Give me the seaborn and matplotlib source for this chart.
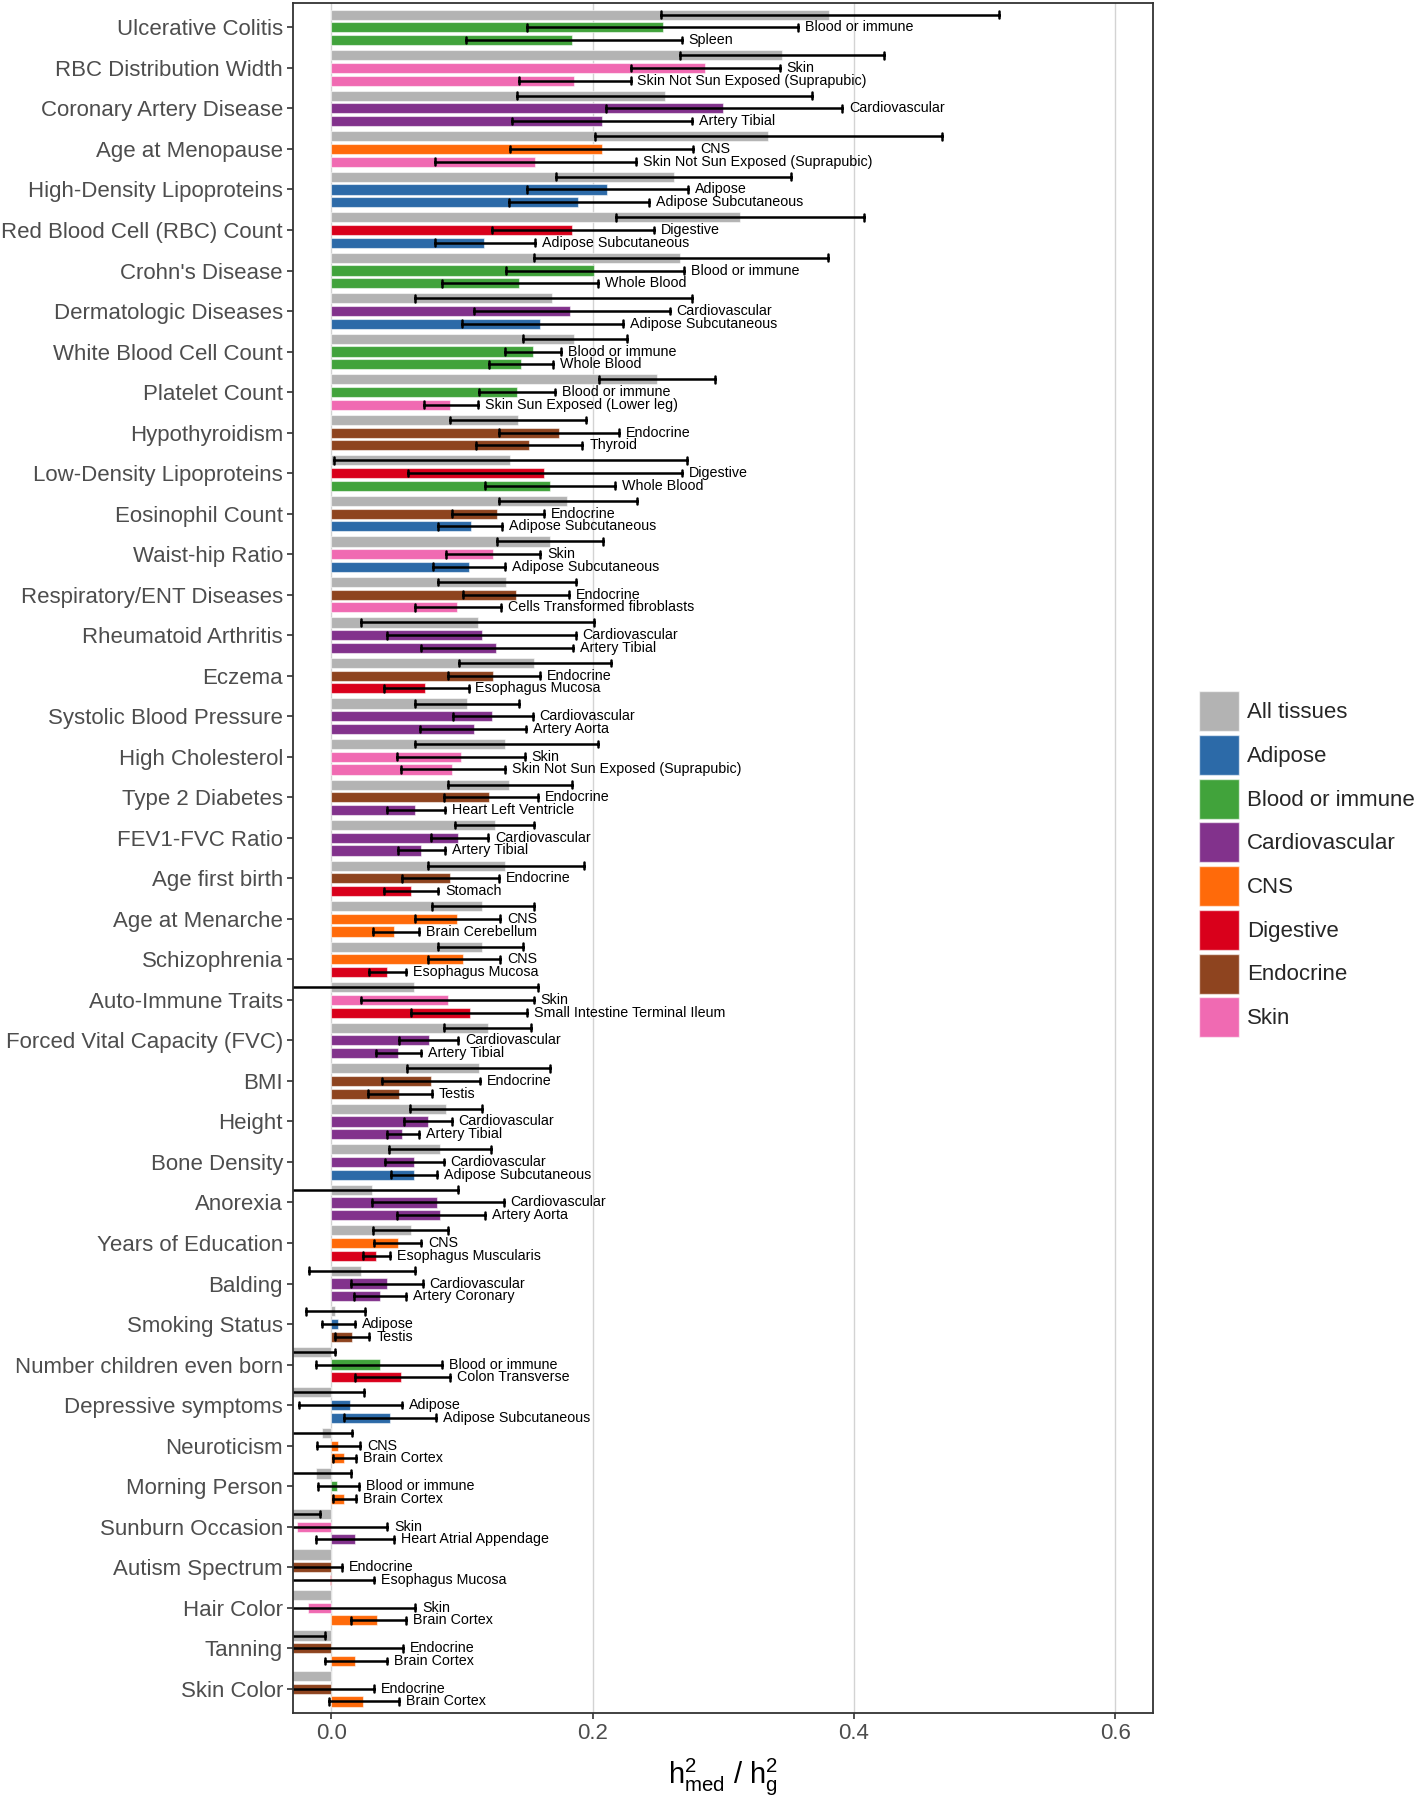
import numpy as np
import pandas as pd
import matplotlib
matplotlib.use("Agg")
import matplotlib.pyplot as plt
import seaborn as sns
from matplotlib.patches import Patch

traits = ["Ulcerative Colitis", "RBC Distribution Width", "Coronary Artery Disease", "Age at Menopause",
          "High-Density Lipoproteins", "Red Blood Cell (RBC) Count", "Crohn's Disease", "Dermatologic Diseases",
          "White Blood Cell Count", "Platelet Count", "Hypothyroidism", "Low-Density Lipoproteins",
          "Eosinophil Count", "Waist-hip Ratio", "Respiratory/ENT Diseases", "Rheumatoid Arthritis", "Eczema",
          "Systolic Blood Pressure", "High Cholesterol", "Type 2 Diabetes", "FEV1-FVC Ratio", "Age first birth",
          "Age at Menarche", "Schizophrenia", "Auto-Immune Traits", "Forced Vital Capacity (FVC)", "BMI", "Height",
          "Bone Density", "Anorexia", "Years of Education", "Balding", "Smoking Status",
          "Number children even born", "Depressive symptoms", "Neuroticism", "Morning Person",
          "Sunburn Occasion", "Autism Spectrum", "Hair Color", "Tanning", "Skin Color"]

all_val = [0.381, 0.345, 0.255, 0.334, 0.262, 0.313, 0.267, 0.169, 0.186, 0.249, 0.143, 0.137, 0.180, 0.167,
           0.134, 0.112, 0.155, 0.104, 0.133, 0.136, 0.125, 0.133, 0.115, 0.115, 0.063, 0.120, 0.113, 0.088,
           0.083, 0.031, 0.061, 0.023, 0.003, -0.035, -0.035, -0.007, -0.012, -0.040, -0.060, -0.060, -0.045, -0.060]
all_lo = [0.252, 0.267, 0.142, 0.202, 0.172, 0.218, 0.155, 0.064, 0.147, 0.205, 0.091, 0.002, 0.128, 0.127,
          0.082, 0.023, 0.098, 0.064, 0.064, 0.089, 0.095, 0.074, 0.077, 0.082, -0.060, 0.086, 0.058, 0.060,
          0.044, -0.050, 0.032, -0.017, -0.019, -0.075, -0.090, -0.032, -0.040, -0.075, -0.100, -0.100, -0.090, -0.100]
all_hi = [0.511, 0.423, 0.368, 0.467, 0.352, 0.408, 0.380, 0.276, 0.226, 0.294, 0.195, 0.272, 0.234, 0.208,
          0.187, 0.201, 0.214, 0.144, 0.204, 0.184, 0.155, 0.193, 0.155, 0.147, 0.158, 0.153, 0.167, 0.115,
          0.122, 0.097, 0.089, 0.064, 0.026, 0.003, 0.025, 0.016, 0.015, -0.009, -0.035, -0.035, -0.005, -0.035]

cat_name = ["Blood or immune", "Skin", "Cardiovascular", "CNS", "Adipose", "Digestive", "Blood or immune",
            "Cardiovascular", "Blood or immune", "Blood or immune", "Endocrine", "Digestive", "Endocrine", "Skin",
            "Endocrine", "Cardiovascular", "Endocrine", "Cardiovascular", "Skin", "Endocrine", "Cardiovascular",
            "Endocrine", "CNS", "CNS", "Skin", "Cardiovascular", "Endocrine", "Cardiovascular", "Cardiovascular",
            "Cardiovascular", "CNS", "Cardiovascular", "Adipose", "Blood or immune", "Adipose", "CNS",
            "Blood or immune", "Skin", "Endocrine", "Skin", "Endocrine", "Endocrine"]
cat_val = [0.254, 0.286, 0.300, 0.207, 0.211, 0.184, 0.201, 0.183, 0.154, 0.142, 0.174, 0.163, 0.127, 0.124,
           0.141, 0.115, 0.124, 0.123, 0.099, 0.121, 0.097, 0.091, 0.096, 0.101, 0.089, 0.075, 0.076, 0.074,
           0.063, 0.081, 0.051, 0.043, 0.005, 0.037, 0.014, 0.005, 0.004, -0.026, -0.045, -0.018, -0.045, -0.050]
cat_lo = [0.150, 0.229, 0.210, 0.137, 0.150, 0.123, 0.134, 0.109, 0.133, 0.113, 0.128, 0.059, 0.092, 0.088,
          0.101, 0.043, 0.089, 0.093, 0.050, 0.086, 0.076, 0.054, 0.064, 0.074, 0.023, 0.052, 0.039, 0.056,
          0.041, 0.031, 0.033, 0.015, -0.007, -0.012, -0.025, -0.011, -0.010, -0.100, -0.100, -0.100, -0.140, -0.130]
cat_hi = [0.357, 0.343, 0.391, 0.277, 0.273, 0.247, 0.270, 0.259, 0.176, 0.171, 0.220, 0.268, 0.163, 0.160,
          0.182, 0.187, 0.160, 0.154, 0.148, 0.158, 0.120, 0.128, 0.129, 0.129, 0.155, 0.097, 0.114, 0.092,
          0.086, 0.132, 0.069, 0.070, 0.018, 0.085, 0.054, 0.022, 0.021, 0.043, 0.008, 0.064, 0.055, 0.033]

tis_name = ["Spleen", "Skin Not Sun Exposed (Suprapubic)", "Artery Tibial", "Skin Not Sun Exposed (Suprapubic)",
            "Adipose Subcutaneous", "Adipose Subcutaneous", "Whole Blood", "Adipose Subcutaneous", "Whole Blood",
            "Skin Sun Exposed (Lower leg)", "Thyroid", "Whole Blood", "Adipose Subcutaneous",
            "Adipose Subcutaneous", "Cells Transformed fibroblasts", "Artery Tibial", "Esophagus Mucosa",
            "Artery Aorta", "Skin Not Sun Exposed (Suprapubic)", "Heart Left Ventricle", "Artery Tibial",
            "Stomach", "Brain Cerebellum", "Esophagus Mucosa", "Small Intestine Terminal Ileum", "Artery Tibial",
            "Testis", "Artery Tibial", "Adipose Subcutaneous", "Artery Aorta", "Esophagus Muscularis",
            "Artery Coronary", "Testis", "Colon Transverse", "Adipose Subcutaneous", "Brain Cortex",
            "Brain Cortex", "Heart Atrial Appendage", "Esophagus Mucosa", "Brain Cortex", "Brain Cortex",
            "Brain Cortex"]
tis_cat = ["Blood or immune", "Skin", "Cardiovascular", "Skin", "Adipose", "Adipose", "Blood or immune",
           "Adipose", "Blood or immune", "Skin", "Endocrine", "Blood or immune", "Adipose", "Adipose", "Skin",
           "Cardiovascular", "Digestive", "Cardiovascular", "Skin", "Cardiovascular", "Cardiovascular",
           "Digestive", "CNS", "Digestive", "Digestive", "Cardiovascular", "Endocrine", "Cardiovascular",
           "Adipose", "Cardiovascular", "Digestive", "Cardiovascular", "Endocrine", "Digestive", "Adipose",
           "CNS", "CNS", "Cardiovascular", "Digestive", "CNS", "CNS", "CNS"]
tis_val = [0.184, 0.186, 0.207, 0.156, 0.189, 0.117, 0.144, 0.160, 0.145, 0.091, 0.151, 0.167, 0.107, 0.105,
           0.096, 0.126, 0.072, 0.109, 0.092, 0.064, 0.069, 0.061, 0.048, 0.043, 0.106, 0.051, 0.052, 0.054,
           0.063, 0.083, 0.034, 0.037, 0.016, 0.053, 0.045, 0.010, 0.010, 0.018, -0.001, 0.035, 0.018, 0.024]
tis_lo = [0.103, 0.144, 0.138, 0.079, 0.136, 0.079, 0.085, 0.100, 0.121, 0.071, 0.111, 0.118, 0.082, 0.078,
          0.064, 0.069, 0.040, 0.068, 0.053, 0.043, 0.051, 0.040, 0.032, 0.029, 0.061, 0.034, 0.028, 0.043,
          0.046, 0.050, 0.024, 0.017, 0.003, 0.018, 0.010, 0.001, 0.001, -0.012, -0.040, 0.015, -0.005, -0.002]
tis_hi = [0.268, 0.229, 0.276, 0.233, 0.243, 0.156, 0.204, 0.223, 0.170, 0.112, 0.192, 0.217, 0.131, 0.133,
          0.130, 0.185, 0.105, 0.149, 0.133, 0.087, 0.087, 0.082, 0.067, 0.057, 0.150, 0.069, 0.077, 0.067,
          0.081, 0.118, 0.045, 0.057, 0.029, 0.091, 0.080, 0.019, 0.019, 0.048, 0.033, 0.057, 0.043, 0.052]

legend_order = ["All tissues", "Adipose", "Blood or immune", "Cardiovascular", "CNS", "Digestive",
                "Endocrine", "Skin"]
cat_colors = {"All tissues": "#B3B3B3", "Adipose": "#2C6AA8", "Blood or immune": "#41A33B",
              "Cardiovascular": "#82328C", "CNS": "#FF6A0A", "Digestive": "#D9001B",
              "Endocrine": "#8E441F", "Skin": "#F06AB2"}

# long table: each bar gets three rows (lo, value, hi); median -> bar, min/max -> error bar
rows = []
slots = ["all", "cat", "tis"]
for i, t in enumerate(traits):
    triples = [(all_lo[i], all_val[i], all_hi[i]),
               (cat_lo[i], cat_val[i], cat_hi[i]),
               (tis_lo[i], tis_val[i], tis_hi[i])]
    for s, tr in zip(slots, triples):
        for v in tr:
            rows.append({"trait": t, "slot": s, "h": v})
df = pd.DataFrame(rows)

sns.set_style("white")
plt.rcParams["font.family"] = ["Liberation Sans", "DejaVu Sans"]
plt.rcParams["mathtext.fontset"] = "custom"
plt.rcParams["mathtext.rm"] = "Liberation Sans"
plt.rcParams["mathtext.it"] = "Liberation Sans"
plt.rcParams["mathtext.default"] = "regular"

fig = plt.figure(figsize=(14.14, 18), dpi=100)
ax = fig.add_axes([0.2075, 0.0483, 0.6081, 0.9500])

sns.barplot(data=df, y="trait", x="h", hue="slot", order=traits, hue_order=slots, orient="h",
            estimator="median", errorbar=lambda v: (np.min(v), np.max(v)),
            dodge=True, width=0.94, gap=0.2, capsize=0.5,
            err_kws={"color": "black", "linewidth": 1.8},
            palette={"all": "#B3B3B3", "cat": "#888888", "tis": "#888888"}, saturation=1,
            edgecolor=(1, 1, 1, 0.55), linewidth=0.8, legend=False, ax=ax)

# recolour bars and add labels, using the bar positions seaborn produced
for p in ax.patches:
    yc = p.get_y() + p.get_height() / 2
    i = int(round(yc))
    off = yc - i
    if off < -0.1:
        p.set_facecolor(cat_colors["All tissues"])
    elif off > 0.1:
        p.set_facecolor(cat_colors[tis_cat[i]])
        ax.annotate(tis_name[i], xy=(tis_hi[i], yc), xytext=(5, 0), textcoords="offset points",
                    va="center", ha="left", fontsize=10.3, color="black")
    else:
        p.set_facecolor(cat_colors[cat_name[i]])
        ax.annotate(cat_name[i], xy=(cat_hi[i], yc), xytext=(5, 0), textcoords="offset points",
                    va="center", ha="left", fontsize=10.3, color="black")

ax.set_xlim(-0.029, 0.629)
ax.set_ylim(len(traits) - 1 + 0.6, -0.6)
ax.set_xticks([0.0, 0.2, 0.4, 0.6])
ax.set_xticklabels(["0.0", "0.2", "0.4", "0.6"])
ax.set_axisbelow(True)
ax.grid(axis="x", color="#D3D3D3", linewidth=1.0)
ax.grid(axis="y", visible=False)
ax.tick_params(axis="both", which="major", length=4.5, width=1.2, color="#333333",
               labelcolor="#4D4D4D", labelsize=16, left=True, bottom=True, pad=3)
for sp in ax.spines.values():
    sp.set_visible(True)
    sp.set_color("#333333")
    sp.set_linewidth(1.3)
ax.set_ylabel("")
ax.set_xlabel(r"$h^2_{med}\ /\ h^2_g$", fontsize=21, labelpad=8, color="black")

handles = [Patch(facecolor=cat_colors[c], edgecolor=(1, 1, 1, 0.6), linewidth=1) for c in legend_order]
fig.legend(handles, legend_order, loc="upper left", bbox_to_anchor=(0.848, 0.616), frameon=False,
           fontsize=16, handlelength=1.8, handleheight=2.39, labelspacing=0.17, handletextpad=0.36,
           borderpad=0, borderaxespad=0)

fig.savefig("out.png", dpi=100)
